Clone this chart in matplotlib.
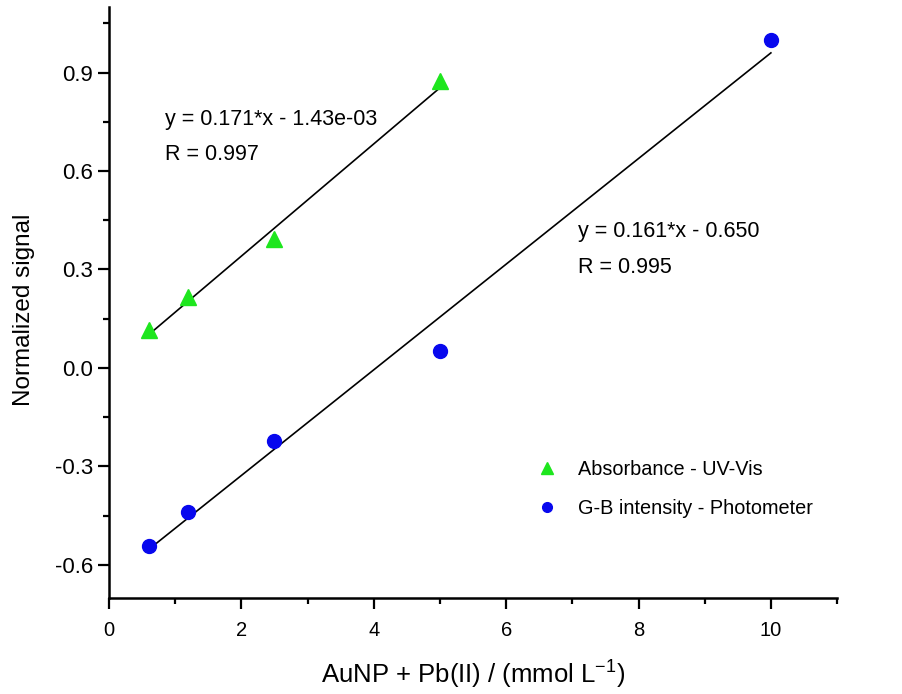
import numpy as np
import matplotlib
import matplotlib.pyplot as plt
from matplotlib.ticker import MultipleLocator

matplotlib.use('Agg')

plt.rcParams['font.family'] = ['Liberation Sans', 'DejaVu Sans']
plt.rcParams['mathtext.fontset'] = 'custom'
plt.rcParams['mathtext.rm'] = 'Liberation Sans'

# concentrations (mmol/L) and normalized responses
conc_abs = [0.6, 1.2, 2.5, 5.0]
signal_abs = [0.116, 0.217, 0.394, 0.873]
conc_gb = [0.6, 1.2, 2.5, 5.0, 10.0]
signal_gb = [-0.543, -0.44, -0.223, 0.052, 1.0]

# linear fits as reported
fit_abs = (0.171, -1.43e-03, 0.997)
fit_gb = (0.161, -0.650, 0.995)

fig = plt.figure(figsize=(9.03, 6.94), dpi=100)
ax = fig.add_axes([0.1207, 0.139, 0.8063, 0.851])

for conc, (m, b, r) in ((conc_abs, fit_abs), (conc_gb, fit_gb)):
    xs = np.array([min(conc), max(conc)])
    ax.plot(xs, m * xs + b, color='black', lw=1.2, zorder=2)

ax.plot(conc_abs, signal_abs, ls='none', marker='^', ms=12, color='#1ee61e',
        mec='#1ee61e', label='Absorbance - UV-Vis', zorder=3)
ax.plot(conc_gb, signal_gb, ls='none', marker='o', ms=10, color='#0808ee',
        mec='#0808ee', label='G-B intensity - Photometer', zorder=3)

ax.text(0.85, 0.757, 'y = %.3f*x - %.2e' % (fit_abs[0], -fit_abs[1]),
        fontsize=15.5, va='center')
ax.text(0.85, 0.65, 'R = %.3f' % fit_abs[2], fontsize=15.5, va='center')
ax.text(7.09, 0.415, 'y = %.3f*x - %.3f' % (fit_gb[0], -fit_gb[1]),
        fontsize=15.5, va='center')
ax.text(7.09, 0.305, 'R = %.3f' % fit_gb[2], fontsize=15.5, va='center')

ax.set_xlim(0, 11)
ax.set_ylim(-0.7, 1.1)
ax.xaxis.set_major_locator(MultipleLocator(2))
ax.xaxis.set_minor_locator(MultipleLocator(1))
ax.yaxis.set_minor_locator(MultipleLocator(0.15))
ax.set_yticks([-0.6, -0.3, 0.0, 0.3, 0.6, 0.9])
ax.set_yticklabels(['-0.6', '-0.3', '0.0', '0.3', '0.6', '0.9'])

for side in ('top', 'right'):
    ax.spines[side].set_visible(False)
for side in ('left', 'bottom'):
    ax.spines[side].set_linewidth(1.8)
ax.tick_params(which='major', direction='out', length=8, width=1.6)
ax.tick_params(which='minor', direction='out', length=4.5, width=1.6)
ax.tick_params(axis='x', which='major', pad=9, labelsize=14.5)
ax.tick_params(axis='y', which='major', pad=3.5, labelsize=16)

ax.set_xlabel('AuNP + Pb(II) / (mmol L$^{-1}$)', fontsize=18.5, labelpad=12)
ax.set_ylabel('Normalized signal', fontsize=17.5)
ax.yaxis.set_label_coords(-0.102, 0.487)

ax.legend(loc='upper left', bbox_to_anchor=(0.588, 0.233), frameon=False,
          fontsize=14.3, markerscale=0.7, handletextpad=1.05,
          labelspacing=1.0, handlelength=1.0, borderpad=0,
          borderaxespad=0)

fig.savefig('out.png', dpi=100)
plt.close(fig)
